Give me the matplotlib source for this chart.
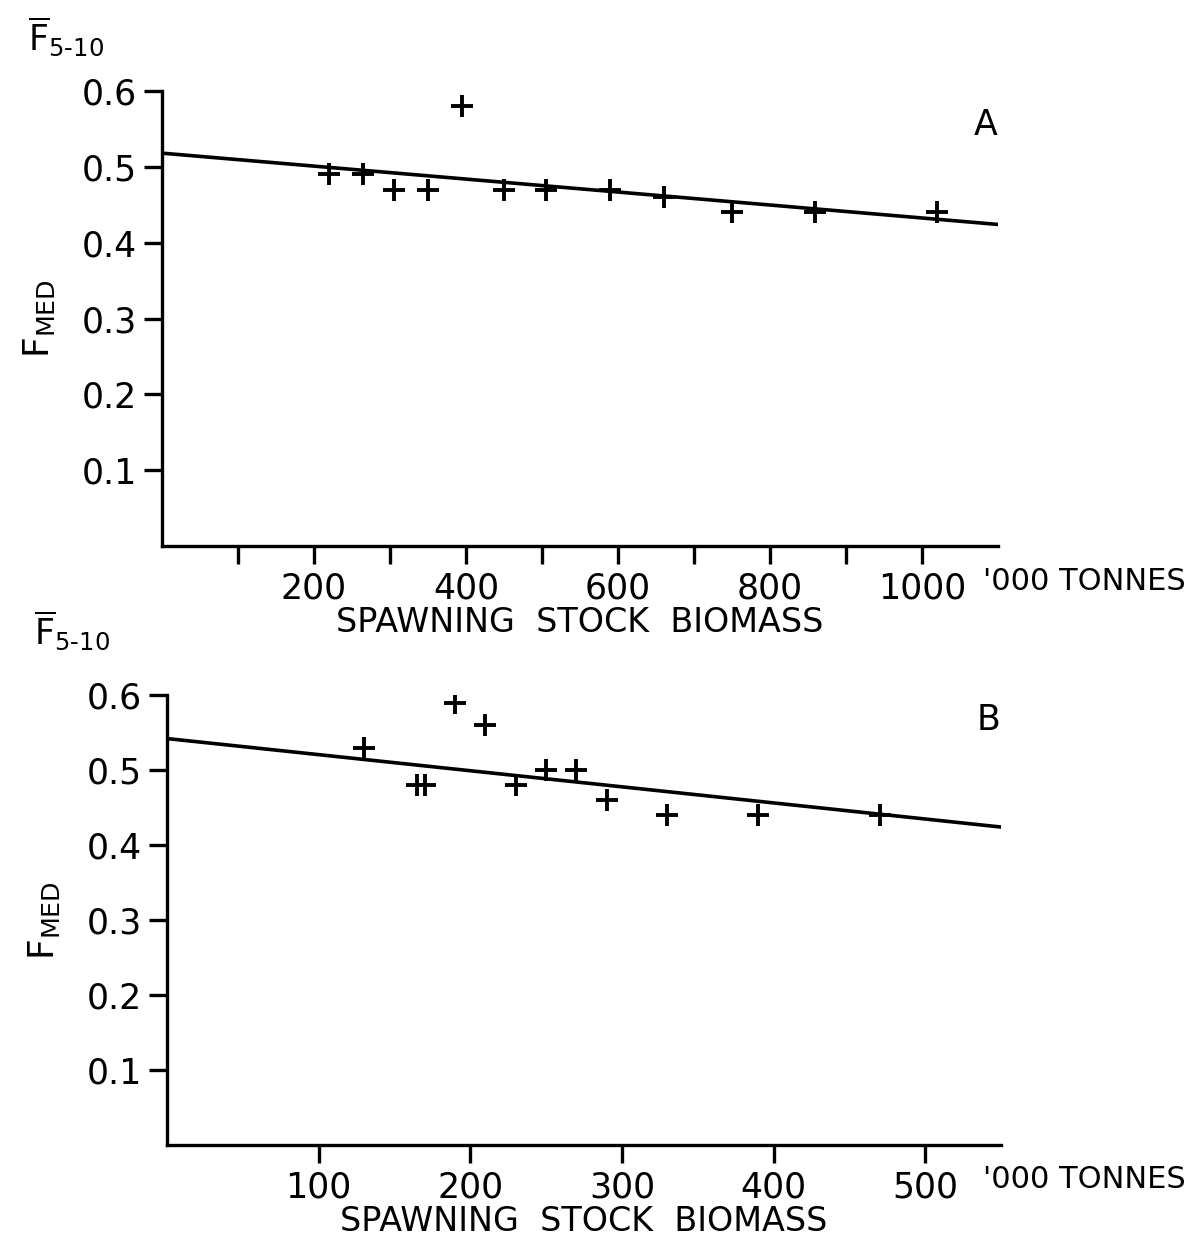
import matplotlib
matplotlib.use('Agg')
from matplotlib import pyplot as plt

# Panel A data ('000 tonnes vs mean F 5-10)
ssb_a = [220, 265, 305, 350, 395, 450, 505, 590, 660, 750, 860, 1020]
f_a = [0.49, 0.49, 0.47, 0.47, 0.58, 0.47, 0.47, 0.47, 0.46, 0.44, 0.44, 0.44]
fit_x_a = [0, 1100]
fit_y_a = [0.518, 0.424]
xticks_a = [100, 200, 300, 400, 500, 600, 700, 800, 900, 1000]
xlabels_a = ['', '200', '', '400', '', '600', '', '800', '', '1000']

# Panel B data
ssb_b = [130, 165, 170, 190, 210, 230, 250, 270, 290, 330, 390, 470]
f_b = [0.53, 0.48, 0.48, 0.59, 0.56, 0.48, 0.50, 0.50, 0.46, 0.44, 0.44, 0.44]
fit_x_b = [0, 550]
fit_y_b = [0.542, 0.424]
xticks_b = [100, 200, 300, 400, 500]
xlabels_b = ['100', '200', '300', '400', '500']

yticks = [0.1, 0.2, 0.3, 0.4, 0.5, 0.6]
ylabels = ['0.1', '0.2', '0.3', '0.4', '0.5', '0.6']

fig = plt.figure(figsize=(11.94, 12.51), dpi=100)
ax_a = fig.add_axes([0.1357, 0.5635, 0.700, 0.3638])
ax_b = fig.add_axes([0.1399, 0.0847, 0.6985, 0.3597])


def style_panel(ax, xmax, xticks, xlabels, letter, letter_y, fbar_y):
    ax.set_xlim(0, xmax)
    ax.set_ylim(0, 0.6)
    for side in ['top', 'right']:
        ax.spines[side].set_visible(False)
    for side in ['left', 'bottom']:
        ax.spines[side].set_linewidth(2.4)
    ax.set_xticks(xticks)
    ax.set_xticklabels(xlabels)
    ax.set_yticks(yticks)
    ax.set_yticklabels(ylabels)
    ax.tick_params(axis='both', direction='out', length=13, width=2.4,
                   labelsize=25, pad=5)
    ax.set_xlabel('SPAWNING  STOCK  BIOMASS', fontsize=24, labelpad=1)
    ax.set_ylabel(r'$\mathrm{F}_{\mathrm{MED}}$', fontsize=26, labelpad=18)
    ax.text(-0.16, fbar_y, r'$\overline{\mathrm{F}}_{5\text{-}10}$',
            transform=ax.transAxes, fontsize=25, ha='left', va='center')
    ax.text(0.985, letter_y, letter, transform=ax.transAxes, fontsize=25,
            ha='center', va='center')


ax_a.plot(fit_x_a, fit_y_a, color='black', linewidth=2.6)
ax_a.plot(ssb_a, f_a, linestyle='none', marker='+', color='black',
          markersize=16, markeredgewidth=2.8)
style_panel(ax_a, 1100, xticks_a, xlabels_a, 'A', 0.925, 1.12)

ax_b.plot(fit_x_b, fit_y_b, color='black', linewidth=2.6)
ax_b.plot(ssb_b, f_b, linestyle='none', marker='+', color='black',
          markersize=16, markeredgewidth=2.8)
style_panel(ax_b, 550, xticks_b, xlabels_b, 'B', 0.944, 1.145)

# units label to the right of the x tick labels
fig.text(0.993, 1 - 582 / 1251, "'000 TONNES", fontsize=22,
         ha='right', va='center')
fig.text(0.993, 1 - 1180 / 1251, "'000 TONNES", fontsize=22,
         ha='right', va='center')

fig.savefig('out.png', dpi=100)
